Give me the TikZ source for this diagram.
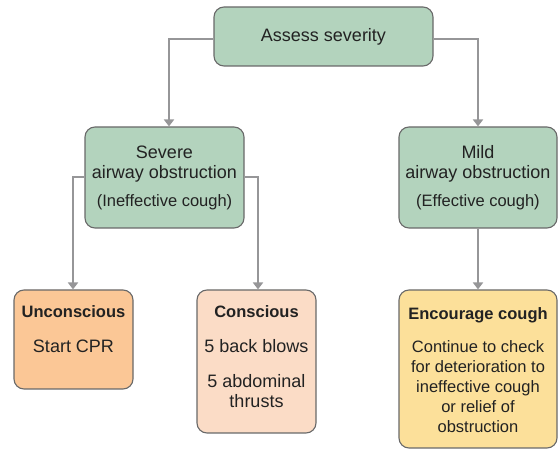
\documentclass[tikz,border=0pt]{standalone}
\usepackage{fontspec}
\setmainfont{Liberation Sans}
\usetikzlibrary{arrows.meta}
\definecolor{boxgreen}{RGB}{179,211,189}
\definecolor{boxorange}{RGB}{251,199,150}
\definecolor{boxpeach}{RGB}{251,220,198}
\definecolor{boxyellow}{RGB}{252,224,154}
\definecolor{boxline}{RGB}{105,105,105}
\definecolor{flowgray}{RGB}{150,150,152}
\definecolor{textdark}{RGB}{34,34,34}
\tikzset{
    box/.style={draw=boxline, line width=1.1pt, rounded corners=10pt, inner sep=0pt},
    flow/.style={draw=flowgray, line width=1.8pt, -{Triangle[width=10pt,length=7pt]}},
    big/.style={font=\fontsize{18}{20.5}\selectfont, text=textdark, inner sep=0pt, align=center},
    small/.style={font=\fontsize{16.5}{20}\selectfont, text=textdark, inner sep=0pt, align=center},
    head/.style={font=\bfseries\fontsize{16.5}{20}\selectfont, text=textdark, inner sep=0pt, align=center}
}
\begin{document}
\begin{tikzpicture}[x=1pt, y=-1pt]
        \useasboundingbox (0, 0) rectangle (558, 449);
        \node[box, big, fill=boxgreen, minimum width=219pt, minimum height=59pt] (Assess) at (323.5, 36.5) {Assess severity};
        \node[box, fill=boxgreen, minimum width=159pt, minimum height=101pt] (Severe) at (164.5, 177.5) {};
        \node[box, fill=boxgreen, minimum width=158pt, minimum height=101pt] (Mild) at (478, 177.5) {};
        \node[box, fill=boxorange, minimum width=119pt, minimum height=99pt] (Uncon) at (73.5, 339.5) {};
        \node[box, fill=boxpeach, minimum width=119pt, minimum height=143pt] (Consc) at (256.5, 361.5) {};
        \node[box, fill=boxyellow, minimum width=158pt, minimum height=158pt] (Cough) at (478, 369) {};
        \node[big, anchor=base] (SevereT) at (164.5, 179) {Severe\\airway obstruction};
        \node[small, anchor=base] (SevereC) at (164.5, 207) {(Ineffective cough)};
        \node[big, anchor=base] (MildT) at (478, 179) {Mild\\airway obstruction};
        \node[small, anchor=base] (MildC) at (478, 207) {(Effective cough)};
        \node[head, anchor=base] (UnconH) at (73.5, 318) {Unconscious};
        \node[big, anchor=base] (UnconT) at (73.5, 353) {Start CPR};
        \node[head, anchor=base] (ConscH) at (256.5, 318) {Conscious};
        \node[big, anchor=base] (ConscT1) at (256.5, 353) {5 back blows};
        \node[big, anchor=base] (ConscT2) at (256.5, 408) {5 abdominal\\thrusts};
        \node[head, anchor=base] (CoughH) at (478, 320) {Encourage cough};
        \node[small, anchor=base] (CoughT) at (478, 433) {Continue to check\\for deterioration to\\ineffective cough\\or relief of\\obstruction};
        \draw[flow] ([yshift=-2.5pt]Assess.west) -| ([xshift=4.5pt]Severe.north);
        \draw[flow] ([yshift=-2.5pt]Assess.east) -| (Mild.north);
        \draw[flow] ([yshift=0.5pt]Severe.west) -| ([xshift=-0.5pt]Uncon.north);
        \draw[flow] ([yshift=0.5pt]Severe.east) -| ([xshift=1.5pt]Consc.north);
        \draw[flow] (Mild.south) -- (Cough.north);
    \end{tikzpicture}
\end{document}
